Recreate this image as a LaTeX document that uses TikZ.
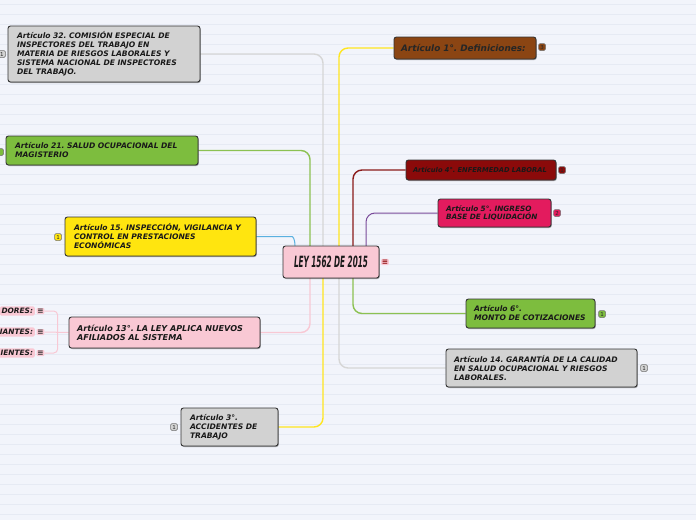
\documentclass[tikz,border=0pt]{standalone}
\usepackage{fontspec}
\setmainfont{DejaVu Sans}
\usetikzlibrary{shadows,calc,backgrounds}
\definecolor{bg}{HTML}{F2F4FB}
\definecolor{gridc}{HTML}{E6EAF4}
\definecolor{ngray}{HTML}{D2D2D2}
\definecolor{ngreen}{HTML}{7DBD3E}
\definecolor{nyellow}{HTML}{FFE50F}
\definecolor{npink}{HTML}{F9C8D4}
\definecolor{nbrown}{HTML}{8B4513}
\definecolor{ndred}{HTML}{8B0A0A}
\definecolor{ncrim}{HTML}{E31B5E}
\definecolor{cgray}{HTML}{D6D6D6}
\definecolor{cgreen}{HTML}{8CC152}
\definecolor{cblue}{HTML}{5AB0E0}
\definecolor{cpink}{HTML}{F8C8D4}
\definecolor{cyellow}{HTML}{FFE620}
\definecolor{cdred}{HTML}{8B1A1A}
\definecolor{cpurple}{HTML}{7A4A9A}
\frenchspacing
\tikzset{
  box/.style={draw=black!80, line width=0.9pt, rounded corners=2.5pt, align=left,
    inner sep=0pt, font=\fontsize{7.6}{9}\selectfont\bfseries\itshape, text=black!90,
    drop shadow={shadow xshift=0.8pt, shadow yshift=-1pt, opacity=0.35, fill=black}},
  badge/.style={draw=black!55, line width=0.5pt, rounded corners=1.5pt, minimum width=7pt,
    minimum height=7pt, inner sep=0.4pt, font=\fontsize{5.5}{5.5}\selectfont, text=black!85},
  conn/.style={line width=1.4pt, rounded corners=9pt},
  child/.style={fill=npink, rounded corners=1.5pt, inner sep=1.8pt, anchor=east,
    font=\fontsize{7.4}{8}\selectfont\bfseries\itshape, text=black!90},
  menu/.style={fill=npink, rounded corners=1pt, inner sep=0.8pt, font=\fontsize{7.5}{7.5}\selectfont\bfseries, text=black!80}
}
\begin{document}
\begin{tikzpicture}[x=1pt,y=-1pt]
\useasboundingbox (0,0) rectangle (696,520);
\begin{scope}[on background layer]
\fill[bg] (0,0) rectangle (696,520);
\foreach \y in {4,14,...,514} \draw[gridc, line width=0.4pt] (0,\y) -- (696,\y);
\end{scope}

% central node
\node[box, fill=npink, minimum width=96pt, minimum height=32pt] (c) at (331,262)
  {\resizebox{74pt}{11.5pt}{\bfseries\itshape LEY 1562 DE 2015}};
\node[menu, text=ndred] (cb) at (385,262) {≡};

% left nodes
\node[box, fill=ngray, minimum width=192pt, minimum height=56pt, text width=174pt] (a32) at (104,54)
  {Artículo 32. COMISIÓN ESPECIAL DE\\INSPECTORES DEL TRABAJO EN\\MATERIA DE RIESGOS LABORALES Y\\SISTEMA NACIONAL DE INSPECTORES\\DEL TRABAJO.};
\node[badge, fill=ngray] (b32) at (2,54) {1};

\node[box, fill=ngreen, minimum width=192pt, minimum height=29pt, text width=174pt] (a21) at (102,150.5)
  {Artículo 21. SALUD OCUPACIONAL DEL\\MAGISTERIO};
\node[badge, fill=ngreen] (b21) at (0,152) {};

\node[box, fill=nyellow, minimum width=191pt, minimum height=39pt, text width=173pt] (a15) at (160.5,236.5)
  {Artículo 15. INSPECCIÓN, VIGILANCIA Y\\CONTROL EN PRESTACIONES\\ECONÓMICAS};
\node[badge, fill=nyellow] (b15) at (58,237) {1};

\node[box, fill=npink, minimum width=191pt, minimum height=31pt, text width=175pt,
  font=\fontsize{8.1}{8.8}\selectfont\bfseries\itshape] (a13) at (164.5,332.5)
  {Artículo 13°. LA LEY APLICA NUEVOS\\AFILIADOS AL SISTEMA};

\node[child] (k1) at (35,311) {DORES:};
\node[child] (k2) at (35,332) {IANTES:};
\node[child] (k3) at (35,353) {IENTES:};
\node[menu] (i1) at (40.5,311) {≡};
\node[menu] (i2) at (40.5,332) {≡};
\node[menu] (i3) at (40.5,353) {≡};

\node[box, fill=ngray, minimum width=97pt, minimum height=38pt, text width=79pt] (a3) at (229.5,427)
  {Artículo 3°.\\ACCIDENTES DE\\TRABAJO};
\node[badge, fill=ngray] (b3) at (174,427) {1};

% right nodes
\node[box, fill=nbrown, minimum width=142pt, minimum height=22pt, text width=128pt,
  font=\fontsize{8.9}{9}\selectfont\bfseries\itshape, text=black!85] (a1) at (465,48)
  {Artículo 1°. Definiciones:};
\node[badge, fill=nbrown] (b1) at (542,47) {3};

\node[box, fill=ndred, minimum width=150pt, minimum height=20pt, text width=136pt,
  font=\fontsize{6.7}{7}\selectfont\bfseries\itshape, text=black!90] (a4) at (481,170)
  {Artículo 4°. ENFERMEDAD LABORAL};
\node[badge, fill=ndred] (b4) at (562,170) {1};

\node[box, fill=ncrim, minimum width=113pt, minimum height=28pt, text width=97pt,
  font=\fontsize{7.3}{8.3}\selectfont\bfseries\itshape] (a5) at (494.5,213)
  {Artículo 5°. INGRESO\\BASE DE LIQUIDACIÓN};
\node[badge, fill=ncrim] (b5) at (557,213) {2};

\node[box, fill=ngreen, minimum width=129pt, minimum height=29pt, text width=113pt] (a6) at (530.5,313.5)
  {Artículo 6°.\\MONTO DE COTIZACIONES};
\node[badge, fill=ngreen] (b6) at (602,314) {1};

\node[box, fill=ngray, minimum width=191pt, minimum height=38pt, text width=175pt] (a14) at (541.5,368)
  {Artículo 14. GARANTÍA DE LA CALIDAD\\EN SALUD OCUPACIONAL Y RIESGOS\\LABORALES.};
\node[badge, fill=ngray] (b14) at (644,368) {1};

% connectors
\begin{scope}[on background layer]
\draw[conn, cgray] (a32.east) -| ($(c.center)+(-8,0)$);
\draw[conn, cyellow] (a3.east) -| ($(c.center)+(-8,0)$);
\draw[conn, cgreen] (a21.east) -| ($(c.center)+(-21,0)$);
\draw[conn, cpink] (a13.east) -| ($(c.center)+(-21,0)$);
\draw[conn, cblue, line width=1pt] (a15.east) -- ($(c.north |- a15.east)+(-48,0)$)
  .. controls ($(c.north |- a15.east)+(-38,0)$) and ($(c.north)+(-36,-6)$) .. ($(c.north)+(-36,0)$);
\draw[conn, cyellow] (a1.west) -| ($(c.center)+(8,0)$);
\draw[conn, cgray] (a14.west) -| ($(c.center)+(8,0)$);
\draw[conn, cdred] (a4.west) -| ($(c.center)+(22,0)$);
\draw[conn, cgreen] (a6.west) -| ($(c.center)+(22,0)$);
\draw[conn, cpurple, line width=1pt] (a5.west) -| ($(c.center)+(35,0)$);
\draw[cpink, line width=1pt, rounded corners=4pt] (i1.east) -| ($(i2.east)+(13,0)$) |- (i3.east);
\draw[cpink, line width=1pt] (i2.east) -- (a13.west);
\end{scope}
\end{tikzpicture}
\end{document}
